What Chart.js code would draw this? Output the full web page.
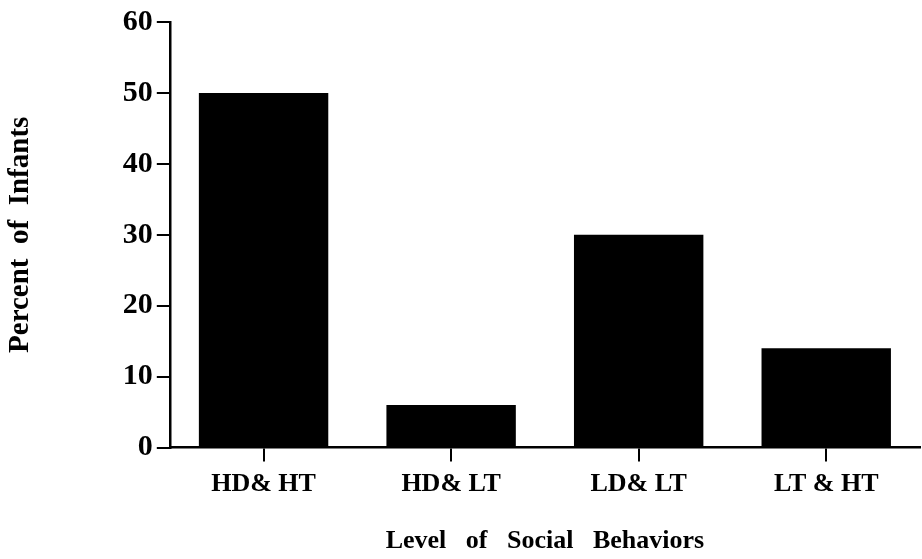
<!DOCTYPE html>
<html>
<head>
<meta charset="utf-8">
<script src="https://cdn.jsdelivr.net/npm/chart.js@4.4.1/dist/chart.umd.min.js"></script>
<style>
  html, body { margin: 0; padding: 0; background: #fff; }
  #wrap { width: 922px; height: 559px; }
</style>
</head>
<body>
<div id="wrap"><canvas id="chart"></canvas></div>
<script>
// Chart data
const categories = ["HD& HT", "HD& LT", "LD& LT", "LT & HT"];
const percentInfants = [50, 6, 30, 14];
const yTicks = [0, 10, 20, 30, 40, 50, 60];

const serif = "'Liberation Serif', 'Times New Roman', serif";

const ctx = document.getElementById("chart").getContext("2d");

new Chart(ctx, {
    type: 'bar',
    data: {
        labels: categories,
        datasets: [{
            data: percentInfants,
            backgroundColor: '#000',
            borderWidth: 0,
            barPercentage: 0.69,
            categoryPercentage: 1
        }]
    },
    options: {
        responsive: true,
        maintainAspectRatio: false,
        animation: false,
        layout: {
            padding: { left: 3, top: 19, right: 2, bottom: 2 }
        },
        plugins: {
            legend: { display: false },
            tooltip: { enabled: false }
        },
        scales: {
            x: {
                offset: true,
                grid: {
                    offset: false,
                    drawOnChartArea: false,
                    drawTicks: true,
                    tickLength: 14,
                    color: '#000',
                    lineWidth: 2
                },
                border: { color: '#000', width: 2.5 },
                ticks: {
                    color: '#000',
                    padding: 7,
                    font: { family: serif, size: 26, weight: 'bold' }
                },
                title: {
                    display: true,
                    text: "Level   of   Social   Behaviors",
                    color: '#000',
                    padding: { top: 19, bottom: 0 },
                    font: { family: serif, size: 26, weight: 'bold' }
                }
            },
            y: {
                min: 0,
                max: 60,
                afterBuildTicks: axis => {
                    axis.ticks = yTicks.map(v => ({ value: v }));
                },
                grid: {
                    drawOnChartArea: false,
                    drawTicks: true,
                    tickLength: 13,
                    color: '#000',
                    lineWidth: 2
                },
                border: { color: '#000', width: 2.5 },
                ticks: {
                    color: '#000',
                    padding: 4,
                    font: { family: serif, size: 30, weight: 'bold' }
                },
                title: {
                    display: true,
                    text: "Percent  of  Infants",
                    color: '#000',
                    padding: { top: 0, bottom: 81 },
                    font: { family: serif, size: 29, weight: 'bold' }
                }
            }
        }
    }
});
</script>
</body>
</html>
